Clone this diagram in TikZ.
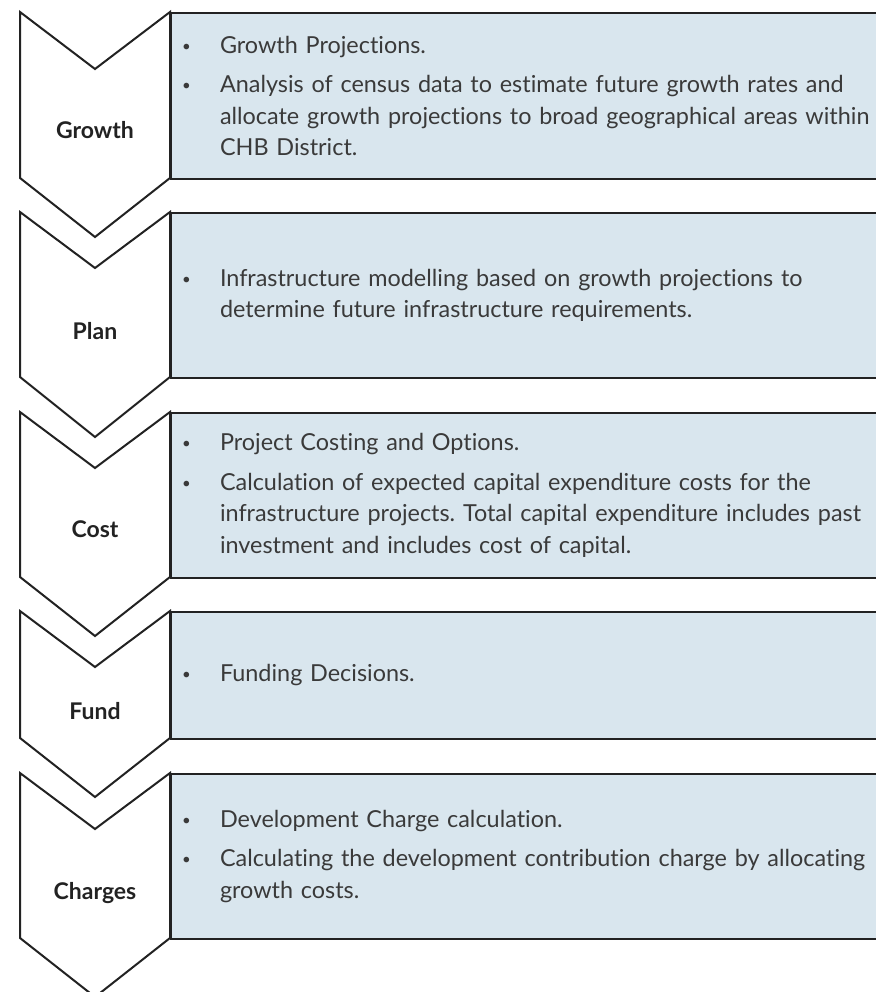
\documentclass[tikz,border=0pt]{standalone}
\usepackage{fontspec}
\setmainfont{Lato}[Ligatures=CommonOff]
\usepackage{tikz}
\usetikzlibrary{positioning}

\definecolor{boxblue}{HTML}{D9E6EE}
\definecolor{ink}{HTML}{222222}
\definecolor{txtgray}{HTML}{3A3A3A}

\newcommand{\bul}{\makebox[38pt][l]{{\fontsize{15}{15}\selectfont\raisebox{2pt}{\textbullet}}}}
\newcommand{\ind}{\hspace*{38pt}}
\frenchspacing

\begin{document}
\begin{tikzpicture}[
    x=1pt, y=-1pt,
    chev/.style={draw=ink, line width=2pt, fill=white, line join=miter},
    box/.style={draw=ink, line width=2pt, fill=boxblue, anchor=north west, minimum width=724pt,
                text width=706pt, inner xsep=11pt, inner ysep=0pt, align=left, text=txtgray,
                font=\fontsize{23.4}{31.5}\selectfont},
    lbl/.style={anchor=base, font=\fontsize{23}{23}\selectfont\bfseries, text=ink}
]
\useasboundingbox (0,0) rectangle (875,992);

\node[box, minimum height=166pt] (growbox) at (170,12) {\bul Growth Projections.\\[8pt]
  \bul Analysis of census data to estimate future growth rates and\\
  \ind allocate growth projections to broad geographical areas within\\
  \ind CHB District.};
\node[box, minimum height=165pt] (planbox) at (170,212) {\bul Infrastructure modelling based on growth projections to\\
  \ind determine future infrastructure requirements.};
\node[box, minimum height=165pt] (costbox) at (170,412) {\bul Project Costing and Options.\\[8pt]
  \bul Calculation of expected capital expenditure costs for the\\
  \ind infrastructure projects. Total capital expenditure includes past\\
  \ind investment and includes cost of capital.};
\node[box, minimum height=127pt] (fundbox) at (170,611) {\bul Funding Decisions.};
\node[box, minimum height=165pt] (chgbox) at (170,773) {\bul Development Charge calculation.\\[8pt]
  \bul Calculating the development contribution charge by allocating\\
  \ind growth costs.};

\draw[chev] (20,12) -- (95,69) -- (170,12) -- (170,178) -- (95,237) -- (20,178) -- cycle;
\draw[chev] (20,212) -- (95,268) -- (170,212) -- (170,377) -- (95,437) -- (20,377) -- cycle;
\draw[chev] (20,412) -- (95,468) -- (170,412) -- (170,577) -- (95,636) -- (20,577) -- cycle;
\draw[chev] (20,611) -- (95,667) -- (170,611) -- (170,738) -- (95,797) -- (20,738) -- cycle;
\draw[chev] (20,773) -- (95,829) -- (170,773) -- (170,938) -- (95,997) -- (20,938) -- cycle;

\node[lbl] (grow) at (95,139) {Growth};
\node[lbl] (plan) at (95,339) {Plan};
\node[lbl] (cost) at (95,537) {Cost};
\node[lbl] (fund) at (95,719) {Fund};
\node[lbl] (chg) at (95,899) {Charges};
\end{tikzpicture}
\end{document}
